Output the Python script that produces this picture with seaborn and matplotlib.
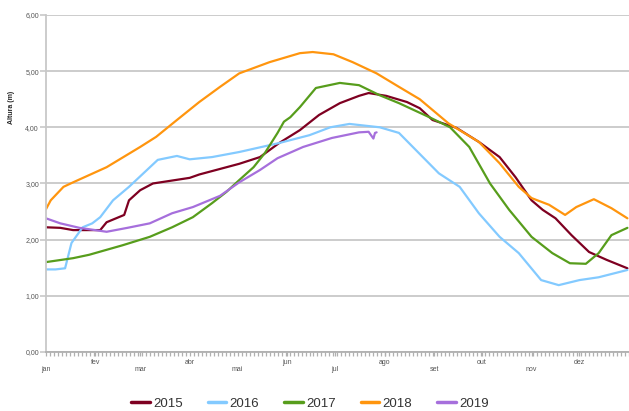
import matplotlib
matplotlib.use("Agg")
import matplotlib.pyplot as plt
from matplotlib.ticker import MultipleLocator
import seaborn as sns
import pandas as pd

# day of year / water level (m)
days_2015 = [0, 9, 17, 34, 38, 49, 52, 59, 67, 90, 96, 121, 134, 146, 159, 171, 184, 196, 202,
             213, 226, 234, 242, 257, 271, 284, 294, 304, 311, 319, 329, 340, 351, 364]
vals_2015 = [2.22, 2.21, 2.17, 2.17, 2.31, 2.44, 2.70, 2.88, 3.00, 3.10, 3.16, 3.35, 3.47, 3.72, 3.95,
             4.22, 4.43, 4.56, 4.61, 4.56, 4.45, 4.34, 4.13, 3.99, 3.74, 3.47, 3.11, 2.70, 2.53,
             2.38, 2.08, 1.78, 1.64, 1.49]

days_2016 = [0, 6, 12, 16, 23, 29, 34, 42, 52, 61, 70, 82, 90, 104, 121, 146, 165, 178, 190, 209,
             221, 246, 259, 271, 284, 296, 310, 321, 334, 346, 364]
vals_2016 = [1.47, 1.47, 1.49, 1.94, 2.22, 2.29, 2.40, 2.70, 2.94, 3.18, 3.42, 3.49, 3.43, 3.47, 3.56,
             3.72, 3.86, 4.00, 4.06, 4.00, 3.90, 3.18, 2.94, 2.47, 2.05, 1.76, 1.28, 1.19, 1.28,
             1.33, 1.46]

days_2017 = [0, 17, 27, 48, 65, 79, 92, 104, 113, 121, 130, 137, 145, 149, 153, 159, 169, 184,
             196, 209, 221, 240, 253, 265, 278, 290, 304, 317, 328, 338, 346, 354, 364]
vals_2017 = [1.60, 1.67, 1.73, 1.90, 2.05, 2.22, 2.40, 2.65, 2.85, 3.06, 3.29, 3.54, 3.90, 4.10,
             4.18, 4.36, 4.70, 4.79, 4.75, 4.57, 4.43, 4.18, 4.00, 3.65, 3.00, 2.53, 2.05, 1.76,
             1.58, 1.57, 1.76, 2.08, 2.21]

days_2018 = [0, 3, 11, 17, 38, 59, 69, 82, 96, 109, 121, 140, 159, 167, 180, 192, 207, 221, 234,
             252, 271, 284, 296, 304, 315, 325, 332, 343, 354, 364]
vals_2018 = [2.54, 2.70, 2.94, 3.02, 3.29, 3.65, 3.83, 4.13, 4.45, 4.72, 4.96, 5.16, 5.32, 5.34,
             5.30, 5.16, 4.96, 4.72, 4.50, 4.07, 3.74, 3.36, 2.94, 2.74, 2.62, 2.44, 2.58, 2.72,
             2.56, 2.38]

days_2019 = [0, 9, 21, 38, 51, 65, 79, 92, 109, 121, 134, 145, 161, 179, 196, 202, 205, 206, 207]
vals_2019 = [2.38, 2.29, 2.21, 2.14, 2.21, 2.29, 2.47, 2.58, 2.78, 3.02, 3.24, 3.45, 3.65, 3.81,
             3.91, 3.92, 3.80, 3.90, 3.91]

years = ["2015", "2016", "2017", "2018", "2019"]
colors = ["#7e0021", "#83caff", "#579d1c", "#ff950e", "#a66fdc"]
month_starts = [0, 31, 59, 90, 120, 151, 181, 212, 243, 273, 304, 334]
month_labels = ["jan", "fev", "mar", "abr", "mai", "jun", "jul", "ago", "set", "out", "nov", "dez"]
y_ticks = [0, 1, 2, 3, 4, 5, 6]

frames = []
for yr, d, v in zip(years,
                    [days_2015, days_2016, days_2017, days_2018, days_2019],
                    [vals_2015, vals_2016, vals_2017, vals_2018, vals_2019]):
    frames.append(pd.DataFrame({"day": d, "altura": v, "ano": yr}))
df = pd.concat(frames, ignore_index=True)

sns.set_style("white")
plt.rcParams['font.family'] = ['Liberation Sans', 'DejaVu Sans']

fig = plt.figure(figsize=(6.29, 4.11), dpi=100)
ax = fig.add_axes([0.073, 0.1436, 0.927, 0.82])

sns.lineplot(data=df, x="day", y="altura", hue="ano", palette=dict(zip(years, colors)),
             linewidth=1.6, sort=False, estimator=None, ax=ax)

ax.set_xlim(0, 365)
ax.set_ylim(0, 6)
ax.set_yticks(y_ticks)
ax.set_yticklabels([f"{t:.2f}".replace(".", ",") for t in y_ticks], fontsize=5, color="#555555")
ax.yaxis.grid(True, color="#c8c8c8", linewidth=1.3)
ax.set_axisbelow(True)

ax.set_xticks(month_starts)
ax.set_xticklabels([])
ax.xaxis.set_minor_locator(MultipleLocator(2.5))
ax.tick_params(axis="x", which="both", direction="out", length=3, color="#b0b0b0", width=0.9, bottom=True)
ax.tick_params(axis="y", direction="out", length=4, color="#c8c8c8", width=1.2, left=True, pad=1)
for i, (d, lab) in enumerate(zip(month_starts, month_labels)):
    off = -12.5 if i % 2 == 0 else -7.5
    ax.annotate(lab, xy=(d, 0), xycoords=("data", "axes fraction"), xytext=(0, off),
                textcoords="offset points", ha="center", va="center", fontsize=5, color="#555555")

for s in ["top", "right"]:
    ax.spines[s].set_visible(False)
ax.spines["left"].set_color("#c8c8c8")
ax.spines["left"].set_linewidth(1.3)
ax.spines["bottom"].set_color("#b0b0b0")
ax.spines["bottom"].set_linewidth(1.3)

ax.set_xlabel("")
ax.set_ylabel("Altura (m)", fontsize=5, fontweight="bold")
ax.yaxis.set_label_coords(-0.053, 0.727)

ax.legend(loc="upper center", bbox_to_anchor=(0.453, -0.1), ncol=5, frameon=False,
          fontsize=9.5, handlelength=1.4, columnspacing=1.9, handletextpad=0.25,
          labelcolor="#333333")
for line in ax.get_legend().get_lines():
    line.set_linewidth(2.5)

fig.savefig("out.png", dpi=100)
